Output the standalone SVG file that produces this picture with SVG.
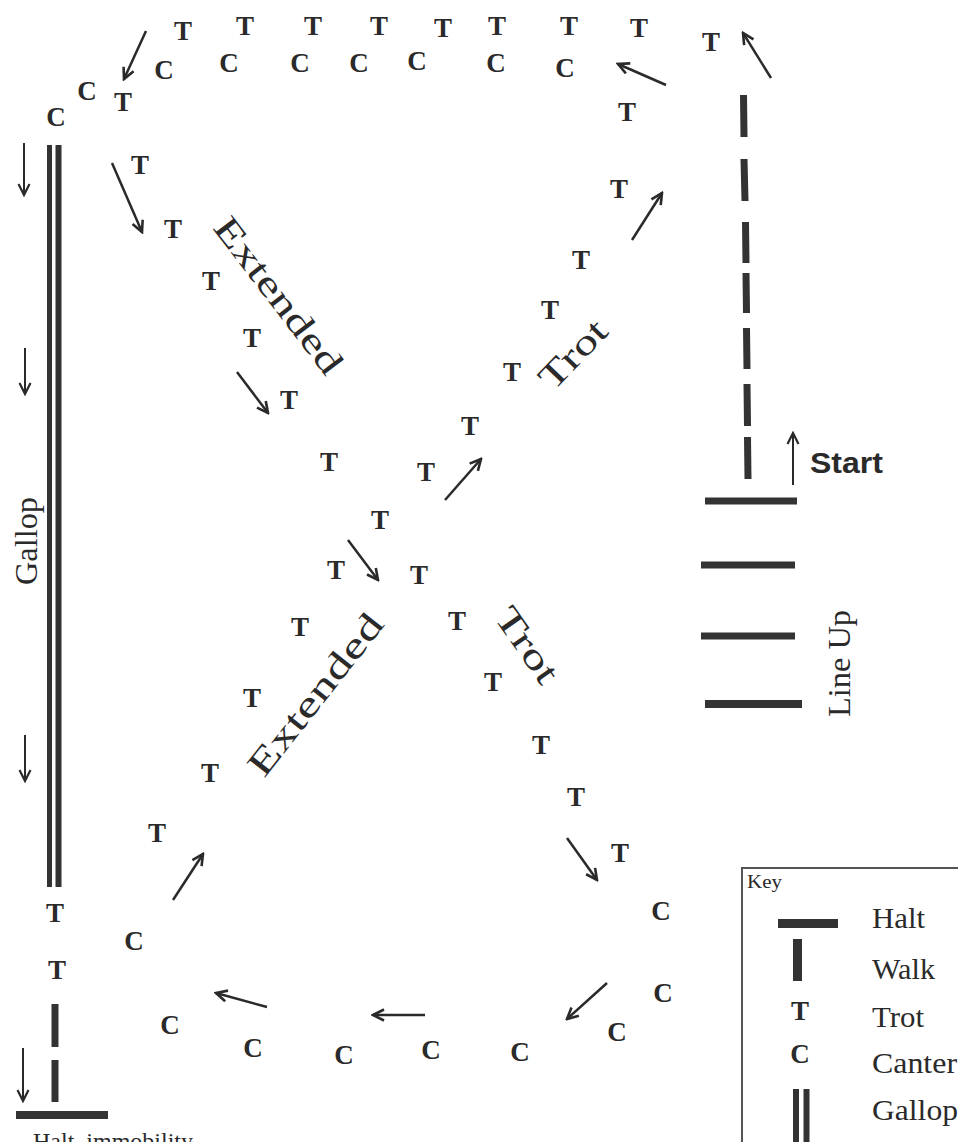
<svg xmlns="http://www.w3.org/2000/svg" width="958" height="1142" viewBox="0 0 958 1142">
<defs>
<style>
.g{font-family:"Liberation Serif","Times New Roman",serif;font-weight:bold;font-size:27px;fill:#2a2a2a;text-anchor:middle}
.lbl{font-family:"Liberation Serif","Times New Roman",serif;fill:#2a2a2a}
.bar{stroke:#333;fill:none}
.arr{stroke:#2a2a2a;stroke-width:2.5;fill:none;marker-end:url(#ah)}
.thin{stroke:#2a2a2a;stroke-width:2;fill:none;marker-end:url(#ah2)}
</style>
<marker id="ah" viewBox="0 0 14 14" refX="12" refY="7" markerWidth="14" markerHeight="14" markerUnits="userSpaceOnUse" orient="auto">
<path d="M1,1.5 L12,7 L1,12.5" fill="none" stroke="#2a2a2a" stroke-width="2.6"/>
</marker>
<marker id="ah2" viewBox="0 0 14 14" refX="12" refY="7" markerWidth="14" markerHeight="14" markerUnits="userSpaceOnUse" orient="auto">
<path d="M1,1.5 L12,7 L1,12.5" fill="none" stroke="#2a2a2a" stroke-width="2.2"/>
</marker>
</defs>
<rect width="958" height="1142" fill="#fff"/>

<g id="connectors">
<path class="arr" d="M146,31 L124,79"/>
<path class="arr" d="M666,85 L618,64"/>
<path class="arr" d="M771,78 L743,33"/>
<path class="arr" d="M112,163 L142,232"/>
<path class="arr" d="M237,372 L268,413"/>
<path class="arr" d="M348,540 L378,580"/>
<path class="arr" d="M567,838 L597,880"/>
<path class="arr" d="M607,983 L567,1019"/>
<path class="arr" d="M425,1015 L373,1015"/>
<path class="arr" d="M267,1007 L216,993"/>
<path class="arr" d="M173,900 L203,854"/>
<path class="arr" d="M445,500 L481,459"/>
<path class="arr" d="M632,240 L662,193"/>
<path class="thin" d="M24,143 L24,195"/>
<path class="thin" d="M25,348 L25,394"/>
<path class="thin" d="M25,735 L25,781"/>
<path class="thin" d="M23,1048 L23,1101"/>
<path class="thin" d="M793,485 L793,433"/>
</g>

<g id="walk-start">
<g class="bar" stroke-width="7">
<path d="M743.5,95 L744,137"/>
<path d="M744,159 L745,201"/>
<path d="M745.5,222 L746,263"/>
<path d="M746,273 L746.5,313"/>
<path d="M746.5,328 L747,369"/>
<path d="M747,384 L747.5,426"/>
<path d="M747.5,437 L748,479"/>
</g>
</g>

<g id="lineup">
<g class="bar">
<path d="M705,501 L797,501" stroke-width="7"/>
<path d="M701,565 L795,565" stroke-width="7"/>
<path d="M701,636 L795,636" stroke-width="7"/>
<path d="M705,704 L802,704" stroke-width="8"/>
</g>
<text class="lbl" font-size="32" transform="translate(850,717) rotate(-90)" textLength="107" lengthAdjust="spacingAndGlyphs">Line Up</text>
</g>

<g id="start-label">
<text x="810" y="473" font-family="'Liberation Sans',Arial,sans-serif" font-weight="bold" font-size="29" fill="#2a2a2a" textLength="73" lengthAdjust="spacingAndGlyphs">Start</text>
</g>

<g id="gallop">
<path class="bar" d="M49.5,145 L49.5,887" stroke-width="5"/>
<path class="bar" d="M58.5,145 L58.5,887" stroke-width="6"/>
<text class="lbl" font-size="31" transform="translate(37,585) rotate(-90)" textLength="88" lengthAdjust="spacingAndGlyphs">Gallop</text>
</g>

<g id="finish">
<path class="bar" d="M55,1004 L55,1047" stroke-width="7"/>
<path class="bar" d="M55,1060 L55,1102" stroke-width="7"/>
<path class="bar" d="M16,1115 L108,1115" stroke-width="8"/>
<text class="lbl" x="33" y="1149" font-size="24">Halt, immobility</text>
</g>

<g id="labels">
<text class="lbl" font-size="36" transform="translate(212,228) rotate(52.6)" textLength="188" lengthAdjust="spacingAndGlyphs">Extended</text>
<text class="lbl" font-size="36" transform="translate(264,779) rotate(-51.8)" textLength="196" lengthAdjust="spacingAndGlyphs">Extended</text>
<text class="lbl" font-size="36" transform="translate(553,392) rotate(-46)" textLength="82" lengthAdjust="spacingAndGlyphs">Trot</text>
<text class="lbl" font-size="36" transform="translate(493,617) rotate(55)" textLength="85" lengthAdjust="spacingAndGlyphs">Trot</text>
</g>

<g id="gaits">
<text class="g" x="183" y="40">T</text>
<text class="g" x="245" y="35">T</text>
<text class="g" x="313" y="35">T</text>
<text class="g" x="379" y="35">T</text>
<text class="g" x="443" y="37">T</text>
<text class="g" x="497" y="35">T</text>
<text class="g" x="569" y="35">T</text>
<text class="g" x="639" y="37">T</text>
<text class="g" x="711" y="51">T</text>
<text class="g" x="56" y="126">C</text>
<text class="g" x="87" y="100">C</text>
<text class="g" x="123" y="111">T</text>
<text class="g" x="164" y="79">C</text>
<text class="g" x="229" y="72">C</text>
<text class="g" x="300" y="72">C</text>
<text class="g" x="359" y="72">C</text>
<text class="g" x="417" y="70">C</text>
<text class="g" x="496" y="72">C</text>
<text class="g" x="565" y="77">C</text>
<text class="g" x="627" y="121">T</text>
<text class="g" x="619" y="198">T</text>
<text class="g" x="581" y="269">T</text>
<text class="g" x="550" y="319">T</text>
<text class="g" x="512" y="381">T</text>
<text class="g" x="470" y="435">T</text>
<text class="g" x="426" y="481">T</text>
<text class="g" x="140" y="174">T</text>
<text class="g" x="173" y="238">T</text>
<text class="g" x="211" y="290">T</text>
<text class="g" x="252" y="347">T</text>
<text class="g" x="289" y="409">T</text>
<text class="g" x="329" y="471">T</text>
<text class="g" x="380" y="529">T</text>
<text class="g" x="336" y="579">T</text>
<text class="g" x="419" y="584">T</text>
<text class="g" x="457" y="630">T</text>
<text class="g" x="493" y="691">T</text>
<text class="g" x="541" y="754">T</text>
<text class="g" x="576" y="806">T</text>
<text class="g" x="620" y="862">T</text>
<text class="g" x="661" y="920">C</text>
<text class="g" x="663" y="1002">C</text>
<text class="g" x="617" y="1041">C</text>
<text class="g" x="520" y="1061">C</text>
<text class="g" x="431" y="1059">C</text>
<text class="g" x="344" y="1064">C</text>
<text class="g" x="253" y="1057">C</text>
<text class="g" x="170" y="1034">C</text>
<text class="g" x="134" y="950">C</text>
<text class="g" x="157" y="842">T</text>
<text class="g" x="210" y="782">T</text>
<text class="g" x="252" y="707">T</text>
<text class="g" x="300" y="636">T</text>
<text class="g" x="55" y="922">T</text>
<text class="g" x="57" y="979">T</text>
</g>

<g id="key">
<rect x="742" y="868" width="240" height="300" fill="none" stroke="#555" stroke-width="2"/>
<text class="lbl" x="747" y="888" font-size="19" textLength="35" lengthAdjust="spacingAndGlyphs">Key</text>
<path class="bar" d="M778,923.5 L838,923.5" stroke-width="9"/>
<path class="bar" d="M797.5,939 L797.5,981" stroke-width="9"/>
<text class="g" x="800" y="1020">T</text>
<text class="g" x="800" y="1063">C</text>
<path class="bar" d="M796,1089 L796,1150" stroke-width="6"/>
<path class="bar" d="M806.5,1089 L806.5,1150" stroke-width="6"/>
<text class="lbl" x="872" y="928" font-size="30" textLength="53" lengthAdjust="spacingAndGlyphs">Halt</text>
<text class="lbl" x="872" y="979" font-size="30" textLength="63" lengthAdjust="spacingAndGlyphs">Walk</text>
<text class="lbl" x="872" y="1027" font-size="30" textLength="52" lengthAdjust="spacingAndGlyphs">Trot</text>
<text class="lbl" x="872" y="1073" font-size="30" textLength="85" lengthAdjust="spacingAndGlyphs">Canter</text>
<text class="lbl" x="872" y="1120" font-size="30" textLength="86" lengthAdjust="spacingAndGlyphs">Gallop</text>
</g>
</svg>
